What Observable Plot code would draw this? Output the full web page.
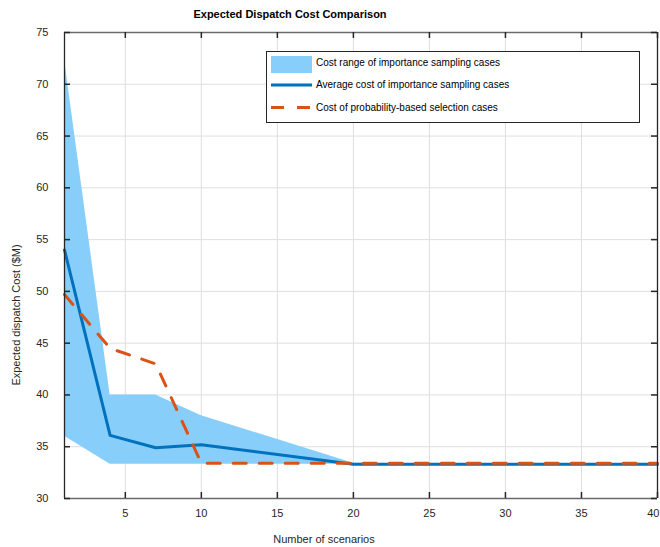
<!DOCTYPE html>
<html>
<head>
<meta charset="utf-8">
<script src="https://cdn.jsdelivr.net/npm/d3@7"></script>
<script src="https://cdn.jsdelivr.net/npm/@observablehq/plot@0.6"></script>
<style>
  html, body { margin: 0; padding: 0; background: #fff; }
  #fig { position: relative; width: 660px; height: 547px; font-family: "Liberation Sans", Arial, Helvetica, sans-serif; color: #262626; overflow: hidden; }
  #fig svg.plot { position: absolute; left: 0; top: 0; }
  .title { position: absolute; left: 290px; top: 8px; transform: translateX(-50%); font-weight: bold; font-size: 11px; color: #000; white-space: nowrap; }
  .xlabel { position: absolute; left: 324px; top: 533px; transform: translateX(-50%); font-size: 11px; white-space: nowrap; }
  .ylabel { position: absolute; left: 16px; top: 315px; transform: translate(-50%, -50%) rotate(-90deg); font-size: 11px; white-space: nowrap; }
  #legend { position: absolute; left: 266px; top: 51px; }
</style>
</head>
<body>
<div id="fig">
  <div class="title">Expected Dispatch Cost Comparison</div>
  <div class="xlabel">Number of scenarios</div>
  <div class="ylabel">Expected dispatch Cost ($M)</div>
</div>
<script>
// ---- data ----
const scenarios = [1, 4, 7, 10, 20, 30, 40];
const upperCost = [72.4, 40.0, 40.0, 38.0, 33.4, 33.3, 33.3];
const lowerCost = [36.0, 33.3, 33.3, 33.3, 33.3, 33.3, 33.3];
const avgCost   = [54.0, 36.1, 34.9, 35.2, 33.3, 33.3, 33.3];
const probScenarios = [1, 4, 7, 10, 20, 30, 40];
const probCost  = [49.7, 44.5, 43.0, 33.4, 33.4, 33.4, 33.4];
const xTicks = [5, 10, 15, 20, 25, 30, 35, 40];
const yTicks = [30, 35, 40, 45, 50, 55, 60, 65, 70, 75];
const xDomain = [1, 40];
const yDomain = [30, 75];
const legendLabels = [
  "Cost range of importance sampling cases",
  "Average cost of importance sampling cases",
  "Cost of probability-based selection cases"
];

const band = scenarios.map((s, i) => ({s, lo: lowerCost[i], hi: upperCost[i]}));
const avg = scenarios.map((s, i) => ({s, v: avgCost[i]}));
const prob = probScenarios.map((s, i) => ({s, v: probCost[i]}));

const BLUE = "#0072BD", ORANGE = "#D95319", FILL = "#87CEFA", GRID = "#dfdfdf", AX = "#262626";
const W = 660, H = 547, mT = 32, mB = 49, mL = 64, mR = 3;
const plotW = W - mL - mR, plotH = H - mT - mB;
const T = 6; // inward tick length

const chart = Plot.plot({
  width: W,
  height: H,
  marginTop: mT,
  marginBottom: mB,
  marginLeft: mL,
  marginRight: mR,
  x: {domain: xDomain},
  y: {domain: yDomain},
  style: {fontFamily: "'Liberation Sans', Arial, Helvetica, sans-serif", fontSize: "11px", color: AX, background: "#fff"},
  marks: [
    Plot.gridX(xTicks, {stroke: GRID, strokeOpacity: 1}),
    Plot.gridY(yTicks, {stroke: GRID, strokeOpacity: 1}),
    Plot.areaY(band, {x: "s", y1: "lo", y2: "hi", fill: FILL, fillOpacity: 1}),
    Plot.line(avg, {x: "s", y: "v", stroke: BLUE, strokeWidth: 3}),
    Plot.line(prob, {x: "s", y: "v", stroke: ORANGE, strokeWidth: 3, strokeDasharray: "13,13"}),
    // box
    Plot.ruleY(yDomain, {y: d => d, stroke: "#6a6a6a", strokeWidth: 1.7}),
    Plot.ruleX(xDomain, {x: d => d, stroke: AX, strokeWidth: 1.3}),
    // tick labels
    Plot.axisX(xTicks.slice(0, -1), {anchor: "bottom", tickSize: 0, tickPadding: 11, label: null, fill: AX}),
    Plot.axisX(xTicks.slice(-1), {anchor: "bottom", tickSize: 0, tickPadding: 11, label: null, fill: AX, textAnchor: "end", dx: 2}),
    Plot.axisY(yTicks, {anchor: "left", tickSize: 0, tickPadding: 16, label: null, fill: AX}),
    // inward ticks on all four sides
    Plot.ruleX(xTicks, {x: d => d, insetTop: plotH - T, stroke: AX, strokeWidth: 1.5}),
    Plot.ruleX(xTicks, {x: d => d, insetBottom: plotH - T, stroke: AX, strokeWidth: 1.5}),
    Plot.ruleY(yTicks, {y: d => d, insetRight: plotW - T, stroke: AX, strokeWidth: 1.5}),
    Plot.ruleY(yTicks, {y: d => d, insetLeft: plotW - T, stroke: AX, strokeWidth: 1.5})
  ]
});
chart.classList.add("plot");
const fig = document.getElementById("fig");
fig.insertBefore(chart, fig.firstChild);

// ---- legend ----
const lw = 373, lh = 71;
const leg = d3.select("#fig").append("svg").attr("id", "legend")
  .attr("width", lw + 1).attr("height", lh + 1)
  .style("font-family", "'Liberation Sans', Arial, Helvetica, sans-serif");
leg.append("rect").attr("x", 0.5).attr("y", 0.5).attr("width", lw).attr("height", lh)
  .attr("fill", "#fff").attr("stroke", AX).attr("stroke-width", 1);
leg.append("rect").attr("x", 5).attr("y", 5).attr("width", 41).attr("height", 17).attr("fill", FILL);
leg.append("line").attr("x1", 5).attr("x2", 46).attr("y1", 34).attr("y2", 34)
  .attr("stroke", BLUE).attr("stroke-width", 3);
leg.append("line").attr("x1", 5).attr("x2", 46).attr("y1", 56.5).attr("y2", 56.5)
  .attr("stroke", ORANGE).attr("stroke-width", 3).attr("stroke-dasharray", "13,13");
const ty = [11, 33.5, 56];
legendLabels.forEach((t, i) => {
  leg.append("text").attr("x", 50).attr("y", ty[i]).attr("dy", "0.35em")
    .attr("font-size", 10).attr("fill", "#000").text(t);
});
</script>
</body>
</html>
